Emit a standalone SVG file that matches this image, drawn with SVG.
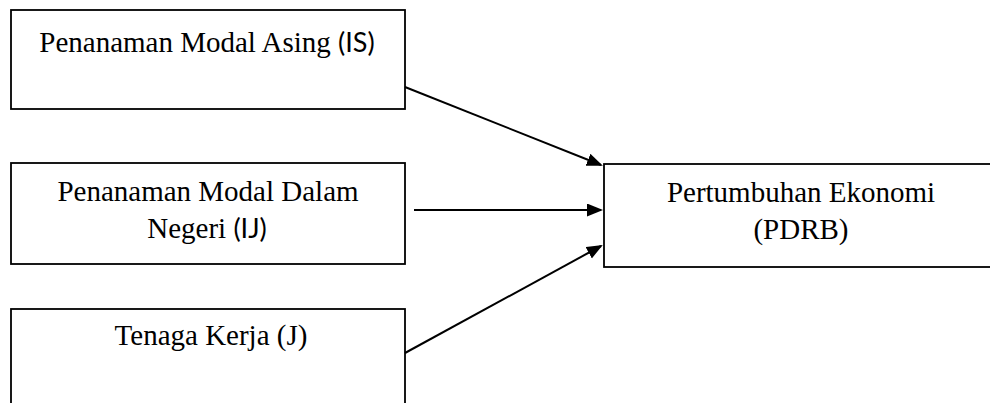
<svg xmlns="http://www.w3.org/2000/svg" width="990" height="403" viewBox="0 0 990 403">
<style>
.box{fill:#fff;stroke:#000;stroke-width:1.8}
.t{font-family:"Liberation Serif","Times New Roman",serif;font-size:29px;fill:#000;text-anchor:middle}
.s{font-family:Lato,"Open Sans",sans-serif;font-size:27px}
.c{stroke:#000;stroke-width:2;fill:none}
</style>
<defs>
<marker id="ah" markerUnits="userSpaceOnUse" markerWidth="16" markerHeight="14" refX="14" refY="6.5" orient="auto">
<path d="M0,0 L16,6.5 L0,13 z" fill="#000"/>
</marker>
</defs>
<g id="node-pma">
<rect class="box" x="11" y="10" width="394" height="99"/>
<text class="t" x="207" y="52">Penanaman Modal Asing <tspan class="s">(IS)</tspan></text>
</g>
<g id="node-pmdn">
<rect class="box" x="11" y="163" width="394" height="101"/>
<text class="t" x="208" y="201">Penanaman Modal Dalam</text>
<text class="t" x="207" y="238">Negeri <tspan class="s">(IJ)</tspan></text>
</g>
<g id="node-tk">
<rect class="box" x="11" y="309" width="394" height="110"/>
<text class="t" x="211" y="345">Tenaga Kerja (J)</text>
</g>
<g id="node-pdrb">
<rect class="box" x="604" y="164" width="400" height="103"/>
<text class="t" x="801" y="202">Pertumbuhan Ekonomi</text>
<text class="t" x="801" y="239">(PDRB)</text>
</g>
<g id="connectors">
<line class="c" x1="405" y1="87" x2="601" y2="165" marker-end="url(#ah)"/>
<line class="c" x1="414" y1="210" x2="601" y2="210" marker-end="url(#ah)"/>
<line class="c" x1="405" y1="353" x2="601" y2="246" marker-end="url(#ah)"/>
</g>
</svg>
